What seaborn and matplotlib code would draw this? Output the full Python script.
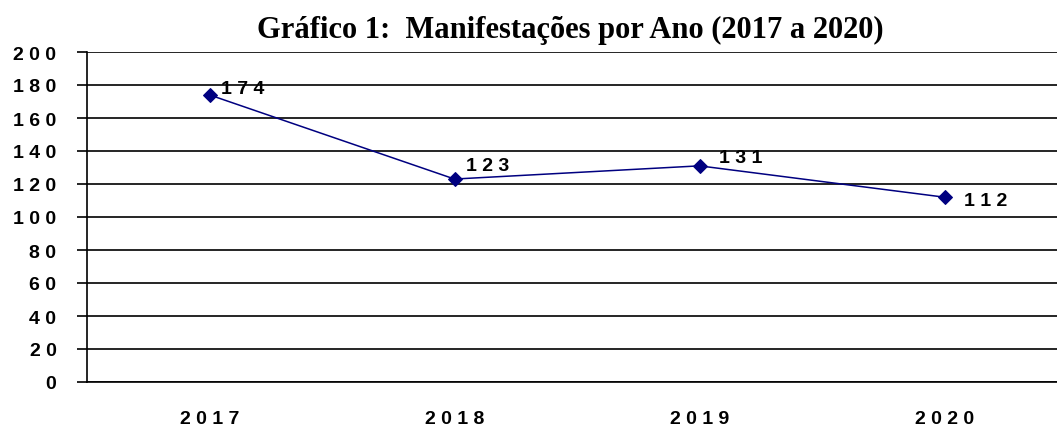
import matplotlib
matplotlib.use("Agg")
import matplotlib.pyplot as plt
import seaborn as sns
import pandas as pd
from matplotlib.ticker import FixedLocator, FuncFormatter

anos = ["2017", "2018", "2019", "2020"]
manifestacoes = [174, 123, 131, 112]
titulo = "Gráfico 1:  Manifestações por Ano (2017 a 2020)"

sns.set_style("white")
plt.rcParams["font.family"] = ["Liberation Sans", "DejaVu Sans"]
plt.rcParams["text.color"] = "black"

df = pd.DataFrame({"Ano": anos, "Manifestações": manifestacoes})

fig = plt.figure(figsize=(10.57, 4.27), dpi=100)
ax = fig.add_axes([87 / 1057, 44 / 427, 980 / 1057, 330 / 427])

sns.lineplot(data=df, x="Ano", y="Manifestações", ax=ax, color="#000080",
             linewidth=1.1, marker="D", markersize=7.5, markeredgecolor="#000080",
             sort=False)

ax.set_xlim(-0.5, 3.5)
ax.set_ylim(0, 200)
ax.set_yticks(range(0, 201, 20))
ax.yaxis.set_major_formatter(FuncFormatter(lambda v, p: " ".join(str(int(v)))))
ax.grid(axis="y", color="black", linewidth=1.2)
ax.grid(axis="x", visible=False)
ax.set_axisbelow(True)

ax.set_xticks(range(len(anos)))
ax.set_xticklabels([" ".join(a) for a in anos])
ax.xaxis.set_minor_locator(FixedLocator([i - 0.5 for i in range(len(anos) + 1)]))
ax.tick_params(axis="x", which="major", length=0, pad=20)
ax.tick_params(axis="x", which="minor", length=5, width=1.2, color="black", direction="out")
ax.tick_params(axis="y", length=7, width=1.2, color="black", direction="out", pad=15, left=True)
for lab in ax.get_xticklabels() + ax.get_yticklabels():
    lab.set_fontweight("bold")
    lab.set_fontsize(14)
    lab.set_color("black")

for s in ["top", "right"]:
    ax.spines[s].set_visible(False)
for s in ["left", "bottom"]:
    ax.spines[s].set_color("black")
    ax.spines[s].set_linewidth(1.2)

ax.set_xlabel("")
ax.set_ylabel("")

offsets = [(8.6, 4.3), (8.6, 9.4), (13.7, 5.8), (14.4, -2.2)]
for i, (v, off) in enumerate(zip(manifestacoes, offsets)):
    ax.annotate(" ".join(str(v)), (i, v), xytext=off, textcoords="offset points",
                fontsize=14, fontweight="bold", ha="left", va="center", color="black")

fig.text(570 / 1057, 1 - 30 / 427, titulo, ha="center", va="center", fontsize=22,
         fontweight="bold", color="black", family=["Liberation Serif", "DejaVu Serif"])

fig.savefig("out.png", dpi=100)
